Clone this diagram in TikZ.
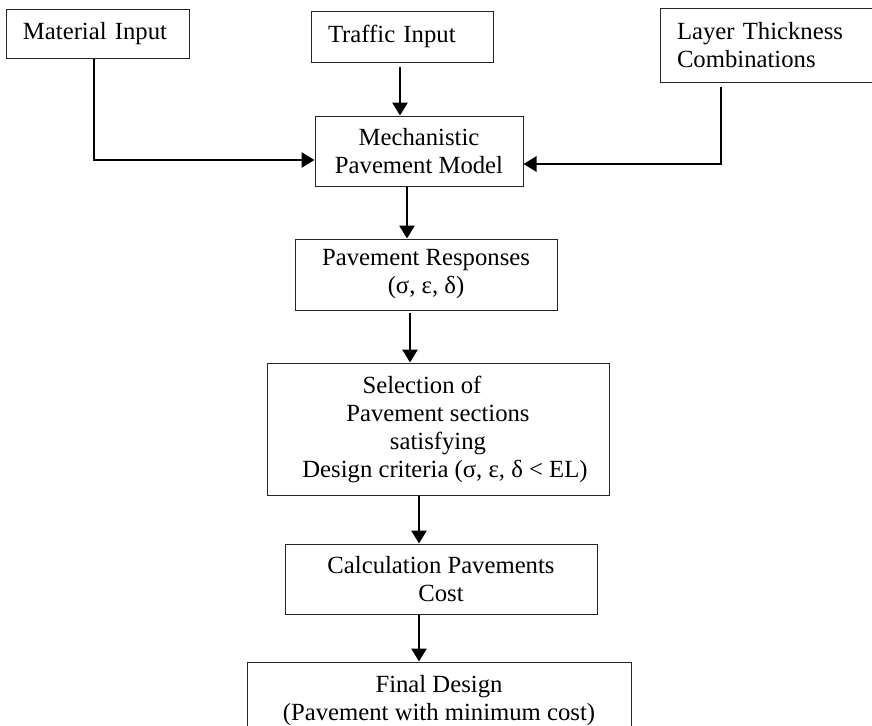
\documentclass[tikz,border=0pt]{standalone}
\usepackage{fontspec}
\setmainfont{Liberation Serif}
\usetikzlibrary{arrows.meta,positioning}

\begin{document}
\begin{tikzpicture}[
    x=0.5pt, y=-0.5pt,
    >={Triangle[length=6.5pt,width=7.5pt]},
    every node/.style={font=\fontsize{12.35}{14}\selectfont},
    box/.style={
        rectangle,
        draw=black!85,
        line width=0.5pt,
        align=center,
        inner sep=3pt
    },
    inbox/.style={
        box,
        align=left,
        inner xsep=8.5pt
    },
    flow/.style={->, draw=black, line width=1.35pt}
]
\clip (0,0) rectangle (872,725);

% inputs along the top
\node[inbox, text width=74.5pt, minimum height=24.5pt] (material) at (97.5,33.5) {Material Input};
\node[inbox, text width=74pt, minimum height=25.5pt] (traffic) at (402,36.5) {Traffic Input};
\node[inbox, text width=98pt, minimum height=37pt] (layer) at (775,45) {Layer Thickness\\Combinations};

% main chain
\node[box, minimum width=104pt, minimum height=35pt, below=26.5pt of traffic, xshift=8.5pt] (mech) {Mechanistic\\Pavement Model};
\node[box, minimum width=131pt, minimum height=35.5pt, below=26pt of mech, xshift=3.5pt] (resp) {Pavement Responses\\(σ, ε, δ)};
\node[box, minimum width=171pt, minimum height=66pt, below=26pt of resp, xshift=6pt] (select) {Selection of\hspace*{16pt}\\Pavement sections\hspace*{16pt}\\satisfying\hspace*{16pt}\\\hspace*{7pt}Design criteria (σ, ε, δ < EL)};
\node[box, minimum width=156pt, minimum height=35pt, below=24pt of select, xshift=1.5pt] (cost) {Calculation Pavements\\Cost};
\node[box, minimum width=192pt, minimum height=39pt, below=23.5pt of cost, xshift=-1pt] (final) {Final Design\\(Pavement with minimum cost)};

\draw[flow, shorten <=2pt] ([xshift=-1pt]traffic.south) -- ([xshift=-1pt]traffic.south |- mech.north);
\draw[flow] ([xshift=-1.75pt]material.south) |- ([yshift=-4.5pt]mech.west);
\draw[flow, shorten <=2pt] ([xshift=-27pt]layer.south) |- ([yshift=-6.5pt]mech.east);
\draw[flow] ([xshift=-6pt]mech.south) -- ([xshift=-6pt]mech.south |- resp.north);
\draw[flow, shorten <=1pt] ([xshift=-8pt]resp.south) -- ([xshift=-8pt]resp.south |- select.north);
\draw[flow] ([xshift=-9.5pt]select.south) -- ([xshift=-9.5pt]select.south |- cost.north);
\draw[flow] ([xshift=-11pt]cost.south) -- ([xshift=-11pt]cost.south |- final.north);

\end{tikzpicture}
\end{document}
